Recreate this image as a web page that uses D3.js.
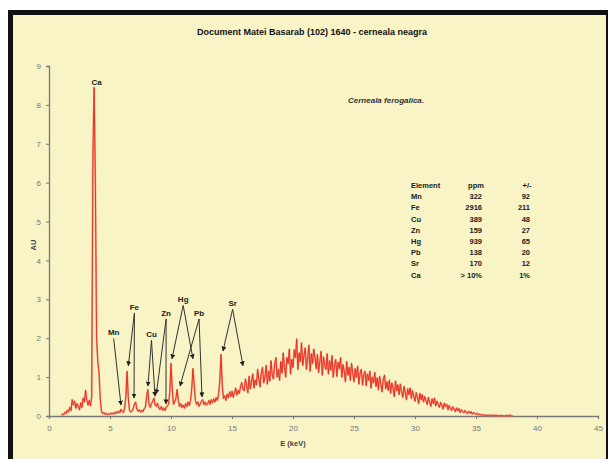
<!DOCTYPE html>
<html><head><meta charset="utf-8">
<script src="https://cdn.jsdelivr.net/npm/d3@7"></script>
<style>html,body{margin:0;padding:0;background:#fff;}svg{display:block;}</style>
</head><body>
<script>
// ---- data ----
const title = "Document Matei Basarab (102) 1640 - cerneala neagra";
const subtitle = "Cerneala ferogalica.";
const xTicks = [0,5,10,15,20,25,30,35,40,45];
const yTicks = [0,1,2,3,4,5,6,7,8,9];
const energyStart = 1.0, energyStep = 0.1; // keV
const counts = [
 0.02,0.05,0.03,0.1,0.06,0.15,0.1,0.22,0.14,0.42,
 0.28,0.38,0.2,0.32,0.24,0.16,0.34,0.22,0.46,0.36,
 0.66,0.4,0.28,0.4,0.26,0.5,6.7,8.45,6.0,2.0,
 1.4,1.1,0.45,0.12,0.06,0.09,0.04,0.07,0.03,0.06,
 0.04,0.08,0.05,0.09,0.05,0.11,0.07,0.13,0.08,0.17,
 0.12,0.09,0.2,0.5,1.15,0.45,0.15,0.1,0.13,0.18,
 0.3,0.36,0.18,0.12,0.16,0.1,0.15,0.11,0.19,0.22,
 0.5,0.68,0.3,0.22,0.32,0.38,0.46,0.28,0.25,0.33,
 0.2,0.17,0.24,0.15,0.21,0.14,0.22,0.26,0.3,0.6,
 1.35,0.7,0.3,0.36,0.45,0.68,0.4,0.24,0.32,0.22,
 0.28,0.2,0.32,0.24,0.36,0.27,0.4,0.7,1.22,0.8,
 0.4,0.3,0.36,0.25,0.31,0.38,0.42,0.29,0.36,0.28,
 0.31,0.4,0.3,0.42,0.34,0.44,0.36,0.47,0.4,0.55,
 0.9,1.58,0.8,0.45,0.52,0.4,0.56,0.47,0.62,0.5,
 0.64,0.48,0.6,0.72,0.54,0.66,0.58,0.76,0.86,0.68,
 0.65,0.95,0.78,0.6,1.02,0.7,0.88,1.08,0.72,0.92,
 0.8,1.2,0.95,0.75,1.1,1.25,0.85,1.0,1.3,0.82,
 1.15,0.9,1.42,1.05,0.95,1.35,1.5,1.0,1.2,0.92,
 1.4,1.1,1.62,1.25,1.0,1.5,1.35,1.72,1.08,1.45,
 1.25,1.7,1.5,1.98,1.2,1.62,1.4,1.88,1.3,1.55,
 1.75,1.2,1.48,1.82,1.15,1.6,1.35,1.72,1.5,1.22,
 1.58,1.12,1.4,1.66,1.05,1.52,1.3,1.2,1.6,1.08,
 1.42,1.18,1.55,1.0,1.3,1.45,1.02,1.38,1.22,1.5,
 1.0,1.32,1.15,0.88,1.4,1.05,1.25,0.92,1.35,1.1,
 0.88,1.22,1.0,1.28,0.82,1.1,1.2,0.8,1.05,1.15,
 0.78,1.08,0.92,1.15,0.72,1.0,0.85,1.12,0.76,0.98,
 0.68,1.02,0.82,0.62,0.95,1.05,0.7,0.88,0.66,0.92,
 0.58,0.85,0.72,0.5,0.9,0.65,0.8,0.55,0.82,0.62,
 0.48,0.76,0.6,0.42,0.7,0.55,0.72,0.45,0.65,0.5,
 0.38,0.6,0.48,0.32,0.58,0.42,0.55,0.36,0.5,0.4,
 0.3,0.48,0.36,0.25,0.44,0.32,0.46,0.26,0.38,0.3,
 0.22,0.35,0.28,0.18,0.33,0.24,0.3,0.16,0.27,0.2,
 0.14,0.24,0.18,0.11,0.21,0.13,0.19,0.09,0.16,0.12,
 0.08,0.14,0.1,0.06,0.12,0.07,0.11,0.05,0.09,0.06,
 0.04,0.07,0.03,0.05,0.02,0.04,0.02,0.03,0.01,0.02,
 0.01,0.03,0.01,0.02,0.01,0.02,0.01,0.02,0.0,0.01,
 0.01,0.02,0.0,0.01,0.0,0.02,0.01,0.0,0.03,0.0,
 0.01
];
// peak annotations: label position and arrow targets, in (keV, AU)
const peakLabels = ["Mn","Fe","Cu","Zn","Hg","Pb","Sr"];
const peakLabelPos = [[5.3,2.15],[7.0,2.8],[8.4,2.1],[9.6,2.65],[11.0,3.0],[12.3,2.65],[15.05,2.9]];
const peakTargets = [
 [[5.9,0.28]],
 [[6.5,1.29],[6.97,0.46]],
 [[8.11,0.77],[8.69,0.51]],
 [[8.8,0.57],[9.59,0.31]],
 [[10.08,1.47],[11.8,1.47]],
 [[10.74,0.77],[12.54,0.49]],
 [[14.26,1.67],[15.9,1.29]]
];
const caLabel = "Ca", caLabelPos = [3.9,8.6];
// table
const tableHeader = ["Element","ppm","+/-"];
const tElements = ["Mn","Fe","Cu","Zn","Hg","Pb","Sr","Ca"];
const tPpm = ["322","2916","389","159","939","138","170","> 10%"];
const tErr = ["92","211","48","27","65","20","12","1%"];

// ---- drawing ----
const W = 608, H = 459;
const svg = d3.select("body").append("svg").attr("width", W).attr("height", H);
svg.append("rect").attr("width", W).attr("height", H).attr("fill", "#fff");
svg.append("rect").attr("x", 8).attr("y", 10).attr("width", W - 8).attr("height", H - 10).attr("fill", "#111");
svg.append("rect").attr("x", 13).attr("y", 15).attr("width", W - 15).attr("height", H - 15).attr("fill", "#f8f4c6");

const x = d3.scaleLinear().domain([0, 45]).range([49, 598]);
const y = d3.scaleLinear().domain([0, 9]).range([416, 66]);
const font = "Liberation Sans, Arial, sans-serif";

// title
svg.append("text").attr("x", 312).attr("y", 35).attr("text-anchor", "middle")
  .attr("font-family", font).attr("font-weight", "bold").attr("font-size", 9).attr("fill", "#111").text(title);
svg.append("text").attr("x", 348).attr("y", 103)
  .attr("font-family", font).attr("font-weight", "bold").attr("font-style", "italic").attr("font-size", 8).attr("fill", "#333").text(subtitle);

// axes
const axCol = "#777";
const gx = svg.append("g").attr("transform", "translate(0,416)")
  .call(d3.axisBottom(x).tickValues(xTicks).tickSize(3).tickPadding(6));
const gy = svg.append("g").attr("transform", "translate(49,0)")
  .call(d3.axisLeft(y).tickValues(yTicks).tickSize(3).tickPadding(5));
[gx, gy].forEach(g => {
  g.select(".domain").attr("stroke", axCol).attr("stroke-width", 1.3);
  g.selectAll(".tick line").attr("stroke", axCol);
  g.selectAll(".tick text").attr("fill", "#777").attr("font-family", font).attr("font-size", 8);
});
svg.append("text").attr("x", 293).attr("y", 446).attr("text-anchor", "middle")
  .attr("font-family", font).attr("font-weight", "bold").attr("font-size", 7.5).attr("fill", "#444").text("E (keV)");
svg.append("text").attr("transform", "translate(36,245) rotate(-90)").attr("text-anchor", "middle")
  .attr("font-family", font).attr("font-weight", "bold").attr("font-size", 7.5).attr("fill", "#444").text("AU");

// spectrum
const pts = counts.map((c, i) => [energyStart + i * energyStep, c]);
const line = d3.line().x(d => x(d[0])).y(d => y(d[1]));
svg.append("path").datum(pts).attr("d", line).attr("fill", "none")
  .attr("stroke", "#f4806e").attr("stroke-width", 1.8).attr("stroke-linejoin", "round").attr("opacity", 0.8);
svg.append("path").datum(pts).attr("d", line).attr("fill", "none")
  .attr("stroke", "#e82818").attr("stroke-width", 0.9).attr("stroke-linejoin", "round");

// annotations
const defs = svg.append("defs");
defs.append("marker").attr("id", "ah").attr("viewBox", "0 0 10 10").attr("refX", 9).attr("refY", 5)
  .attr("markerWidth", 5).attr("markerHeight", 5).attr("orient", "auto")
  .append("path").attr("d", "M0,0 L10,5 L0,10 z").attr("fill", "#222");
const ann = svg.append("g");
peakLabels.forEach((lab, i) => {
  const [lx, ly] = peakLabelPos[i];
  ann.append("text").attr("x", x(lx)).attr("y", y(ly) + 3).attr("text-anchor", "middle")
    .attr("font-family", font).attr("font-weight", "bold").attr("font-size", 8).attr("fill", "#222").text(lab);
  peakTargets[i].forEach(t => {
    ann.append("line").attr("x1", x(lx)).attr("y1", y(ly) + 6).attr("x2", x(t[0])).attr("y2", y(t[1]))
      .attr("stroke", "#333").attr("stroke-width", 1).attr("marker-end", "url(#ah)");
  });
});
ann.append("text").attr("x", x(caLabelPos[0])).attr("y", y(caLabelPos[1]) + 3).attr("text-anchor", "middle")
  .attr("font-family", font).attr("font-weight", "bold").attr("font-size", 8).attr("fill", "#222").text(caLabel);

// table
const tb = svg.append("g").attr("font-family", font).attr("font-weight", "bold").attr("font-size", 7.5).attr("fill", "#1a1a1a");
const row0 = 188, rowH = 11.2;
tb.append("text").attr("x", 411).attr("y", row0).text(tableHeader[0]);
tb.append("text").attr("x", 476).attr("y", row0).attr("text-anchor", "middle").text(tableHeader[1]);
tb.append("text").attr("x", 527).attr("y", row0).attr("text-anchor", "middle").text(tableHeader[2]);
tElements.forEach((e, i) => {
  const yy = row0 + (i + 1) * rowH;
  tb.append("text").attr("x", 411).attr("y", yy).text(e);
  tb.append("text").attr("x", 482).attr("y", yy).attr("text-anchor", "end").text(tPpm[i]);
  tb.append("text").attr("x", 530).attr("y", yy).attr("text-anchor", "end").text(tErr[i]);
});
</script>
</body></html>
